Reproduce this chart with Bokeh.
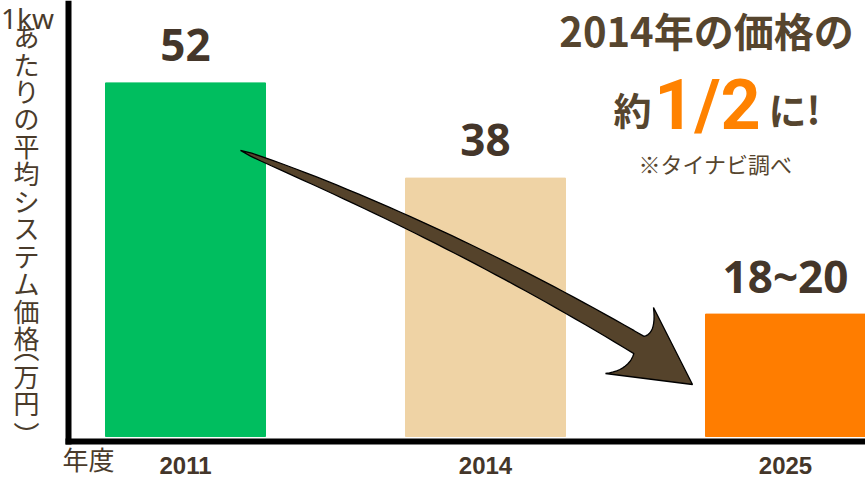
import numpy as np

from bokeh.core.properties import value
from bokeh.embed import file_html
from bokeh.models import BoxAnnotation, ColumnDataSource, Label, LabelSet, Range1d
from bokeh.plotting import figure
from bokeh.resources import INLINE

# data
years = ["2011", "2014", "2025"]
prices = [52, 38, 18]
price_labels = ["52", "38", "18~20"]
bar_colors = ["#00be5f", "#efd3a5", "#ff7d00"]

y_head = "1kw"
y_chars = ["あ", "た", "り", "の", "平", "均", "シ", "ス", "テ", "ム", "価", "格",
           "︵", "万", "円", "︶"]

BROWN = "#56452e"
DARK = "#44362a"
AXIS_TEXT = "#4a3b2b"


# picture pixel -> data (bar centres 300px apart, 6.8px per 万円)
def X(px):
    return (px - 185) / 300.0


def Y(py):
    return (436 - py) / 6.8


# the Noto fonts come out lower than asked in the svg, lift them a bit
def lift(size):
    return 8 + 0.227 * size


p = figure(width=865, height=477, output_backend="svg", toolbar_location=None,
           x_range=Range1d(X(0), X(865)), y_range=Range1d(Y(477), Y(0)),
           x_axis_location=None, y_axis_location=None,
           min_border_left=0, min_border_right=0, min_border_top=0, min_border_bottom=0)
p.outline_line_color = None
p.grid.visible = False
p.background_fill_color = "white"
p.border_fill_color = "white"

idx = list(range(len(years)))
src = ColumnDataSource(dict(x=idx, top=prices, color=bar_colors, label=price_labels,
                            ly=[v + (20 + lift(44)) / 6.8 for v in prices]))
p.vbar(x="x", top="top", bottom=0, width=160 / 300, color="color", source=src)

p.text(x="x", y="ly", text="label", source=src, text_align="center",
       text_baseline="alphabetic", text_font=value("Noto Sans"), text_font_style="bold",
       text_font_size="44px", text_color=DARK)

# axis lines
p.add_layout(BoxAnnotation(left=X(65), right=X(71), bottom=Y(444), top=None,
                           fill_color="black", fill_alpha=1, line_color=None))
p.add_layout(BoxAnnotation(left=X(65), right=None, bottom=Y(444), top=Y(438),
                           fill_color="black", fill_alpha=1, line_color=None))

# curved arrow 2011 -> 2025
tail = np.array([240.0, 150.0])
ctrl = np.array([447.0, 231.0])
base = np.array([638.5, 344.5])
t = np.linspace(0, 1, 40)
curve = ((1 - t) ** 2)[:, None] * tail + (2 * t * (1 - t))[:, None] * ctrl + (t ** 2)[:, None] * base
deriv = 2 * (1 - t)[:, None] * (ctrl - tail) + 2 * t[:, None] * (base - ctrl)
deriv /= np.linalg.norm(deriv, axis=1)[:, None]
normal = np.column_stack([deriv[:, 1], -deriv[:, 0]])  # up-right side
half = 10 * np.sqrt(t)
upper = curve + normal * half[:, None]
lower = curve - normal * half[:, None]


def qcurve(a, c, b, n=12):
    s = np.linspace(0, 1, n)[:, None]
    return (1 - s) ** 2 * np.array(a) + 2 * s * (1 - s) * np.array(c) + s ** 2 * np.array(b)


head = np.vstack([
    qcurve(upper[-1], (656, 333), (653, 307)),
    [[692, 384]],
    qcurve((605, 373), (628, 370), lower[-1]),
])
poly = np.vstack([upper, head, lower[::-1]])
p.patch(x=[X(v) for v in poly[:, 0]], y=[Y(v) for v in poly[:, 1]],
        fill_color="#55432b", line_color="black", line_width=1.3)

# year labels under the axis
ysrc = ColumnDataSource(dict(x=idx, y=[Y(473)] * len(years), text=years))
p.add_layout(LabelSet(x="x", y="y", text="text", source=ysrc, text_align="center",
                      text_baseline="alphabetic", text_font=value("Liberation Sans"),
                      text_font_style="bold", text_font_size="24px", text_color=DARK))
p.add_layout(Label(x=X(62), y=Y(472 - lift(26)), text="年度", text_align="left",
                   text_baseline="alphabetic", text_font="Noto Sans CJK JP",
                   text_font_size="26px", text_color=AXIS_TEXT))

# vertical y-axis title (vertical brackets sit off-centre in their em box)
p.add_layout(Label(x=X(27), y=Y(32 - lift(28)), text=y_head, text_align="center",
                   text_baseline="alphabetic", text_font="Noto Sans",
                   text_font_size="28px", text_color=AXIS_TEXT))
centres = [49 + i * 27.45 for i in range(12)] + [361, 389, 416, 447]
csrc = ColumnDataSource(dict(x=[X(26)] * len(y_chars),
                             y=[Y(c - lift(26)) for c in centres], text=y_chars))
p.add_layout(LabelSet(x="x", y="y", text="text", source=csrc, text_align="center",
                      text_baseline="middle", text_font=value("Noto Sans CJK JP"),
                      text_font_size="26px", text_color=AXIS_TEXT))

# headline
p.add_layout(Label(x=X(706), y=Y(47 - lift(40)), text="2014年の価格の", text_align="center",
                   text_baseline="alphabetic", text_font="Noto Sans CJK JP",
                   text_font_style="bold", text_font_size="40px", text_color=BROWN))
p.add_layout(Label(x=X(651), y=Y(125 - lift(38)), text="約", text_align="right",
                   text_baseline="alphabetic", text_font="Noto Sans CJK JP",
                   text_font_style="bold", text_font_size="38px", text_color=BROWN))
p.add_layout(Label(x=X(707), y=Y(128 - lift(70)), text="1/2", text_align="center",
                   text_baseline="alphabetic", text_font="Roboto",
                   text_font_style="bold", text_font_size="70px", text_color="#ff8200"))
p.add_layout(Label(x=X(768), y=Y(125 - lift(38)), text="に!", text_align="left",
                   text_baseline="alphabetic", text_font="Noto Sans CJK JP",
                   text_font_style="bold", text_font_size="38px", text_color=BROWN))
p.add_layout(Label(x=X(715), y=Y(175 - lift(22)), text="※タイナビ調べ", text_align="center",
                   text_baseline="alphabetic", text_font="Noto Sans CJK JP",
                   text_font_size="22px", text_color=BROWN))

open("out.html", "w").write(file_html(p, INLINE))
